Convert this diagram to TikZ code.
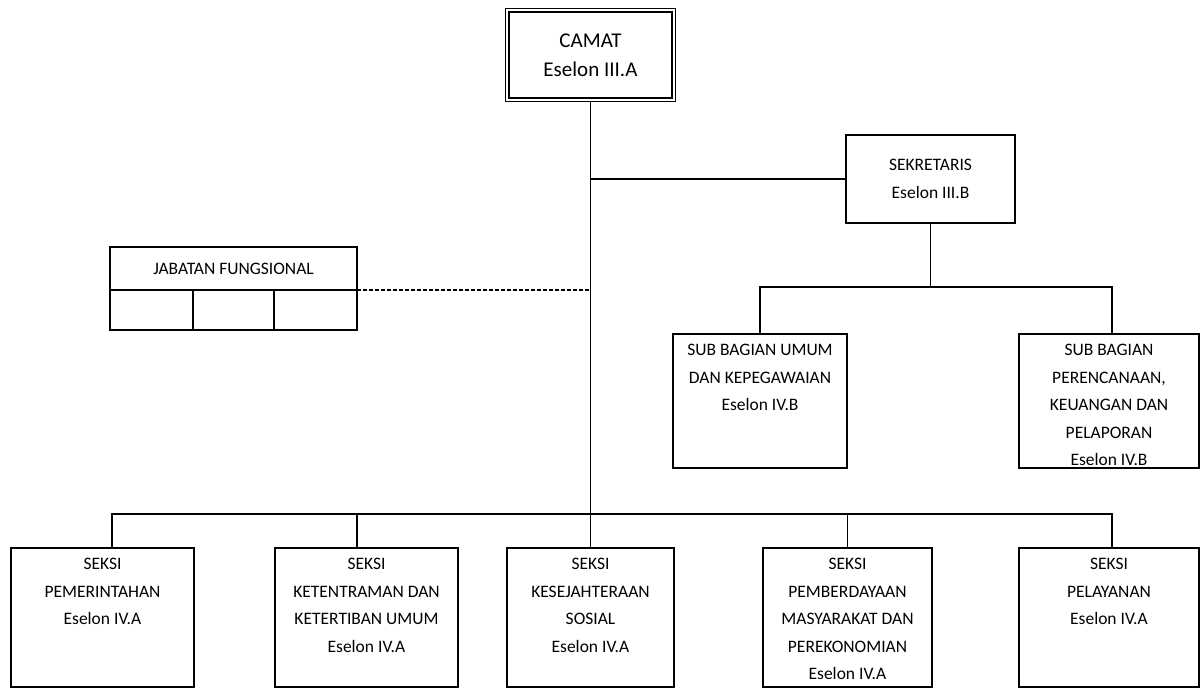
\documentclass[tikz,border=0pt]{standalone}
\usepackage{fontspec}
\setmainfont{Carlito}
\usepackage{tikz}
\usetikzlibrary{positioning}
\usetikzlibrary{calc}

\begin{document}
\begin{tikzpicture}[x=1pt, y=-1pt, every node/.style={font=\fontsize{17.5}{27.5}\selectfont, inner sep=0pt, align=center}, box/.style={draw, line width=1.6pt, outer sep=0pt}, link/.style={line width=1.6pt}, seksi/.style={box, minimum width=#1, minimum height=139pt}, txt/.style={below=10pt of #1}]
  \useasboundingbox (0,0) rectangle (1201,688);
  \node[box, double, double distance=2pt, line width=1.3pt, outer sep=2.3pt, minimum width=166.4pt, minimum height=89.4pt, font=\fontsize{21}{29}\selectfont] (camat) at (590.5,55) {CAMAT\\Eselon III.A};
  \node[box, minimum width=169pt, minimum height=88pt] (sek) at (930.5,179) {SEKRETARIS\\Eselon III.B};
  \node[box, minimum width=247pt, minimum height=43pt] (jab) at (233.5,268.5) {JABATAN FUNGSIONAL};
  \node[box, anchor=north west, minimum width=83pt, minimum height=40pt] (jab1) at (jab.south west) {};
  \node[box, anchor=north west, minimum width=81pt, minimum height=40pt] (jab2) at (jab1.north east) {};
  \node[box, anchor=north west, minimum width=83pt, minimum height=40pt] (jab3) at (jab2.north east) {};
  \node[box, minimum width=174pt, minimum height=134pt] (sub1) at (760,401) {};
  \node[box, minimum width=180pt, minimum height=134pt] (sub2) at (1109,401) {};
  \node[txt=sub1.north] (sub1-t) {SUB BAGIAN UMUM\\DAN KEPEGAWAIAN\\Eselon IV.B};
  \node[txt=sub2.north] (sub2-t) {SUB BAGIAN\\PERENCANAAN,\\KEUANGAN DAN\\PELAPORAN\\Eselon IV.B};
  \node[seksi=183pt] (pem) at (102.5,617.5) {};
  \node[seksi=183pt] (ket) at (366.5,617.5) {};
  \node[seksi=167pt] (kes) at (590.5,617.5) {};
  \node[seksi=169pt] (pmk) at (847.5,617.5) {};
  \node[seksi=180pt] (pel) at (1109,617.5) {};
  \node[txt=pem.north] (pem-t) {SEKSI\\PEMERINTAHAN\\Eselon IV.A};
  \node[txt=ket.north] (ket-t) {SEKSI\\KETENTRAMAN DAN\\KETERTIBAN UMUM\\Eselon IV.A};
  \node[txt=kes.north] (kes-t) {SEKSI\\KESEJAHTERAAN\\SOSIAL\\Eselon IV.A};
  \node[txt=pmk.north] (pmk-t) {SEKSI\\PEMBERDAYAAN\\MASYARAKAT DAN\\PEREKONOMIAN\\Eselon IV.A};
  \node[txt=pel.north] (pel-t) {SEKSI\\PELAYANAN\\Eselon IV.A};
  \coordinate (sbus) at (930.5,287);
  \coordinate (bus) at (590.5,514);
  \draw[link] (camat.south) -- (kes.north);
  \draw[link] (sek.west) -- (sek.west -| camat.south);
  \draw[link, line width=1.3pt, dash pattern=on 4pt off 2pt] (jab.south east) -- (jab.south east -| camat.south);
  \draw[link] (sek.south) -- (sbus);
  \draw[link] (sub1.north) |- (sbus) -| ([xshift=3pt]sub2.north);
  \draw[link] ([xshift=9.5pt]pem.north) |- (bus) -| ([xshift=3pt]pel.north);
  \draw[link] ([xshift=-9.5pt]ket.north) -- ([xshift=-9.5pt]ket.north |- bus);
  \draw[link] (pmk.north) -- (pmk.north |- bus);
\end{tikzpicture}
\end{document}
